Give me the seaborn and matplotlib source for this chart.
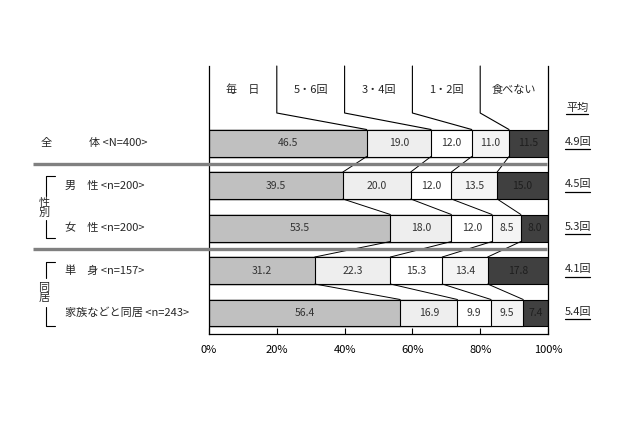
import matplotlib
matplotlib.use('Agg')

import matplotlib.pyplot as plt
import matplotlib.transforms as mtransforms
import seaborn as sns
import numpy as np

# データ
GROUPS = ['全体', '男性', '女性', '単身', '家族などと同居']
CATEGORIES = ['毎　日', '5・6回', '3・4回', '1・2回', '食べない']
MAINICHI = [46.5, 39.5, 53.5, 31.2, 56.4]
KAI_56 = [19.0, 20.0, 18.0, 22.3, 16.9]
KAI_34 = [12.0, 12.0, 12.0, 15.3, 9.9]
KAI_12 = [11.0, 13.5, 8.5, 13.4, 9.5]
TABENAI = [11.5, 15.0, 8.0, 17.8, 7.4]
AVERAGE = ['4.9回', '4.5回', '5.3回', '4.1回', '5.4回']
HEAD_BOUNDS = [20, 40, 60, 80]
XTICKS = [0, 20, 40, 60, 80, 100]

COLORS = ['#c0c0c0', '#eeeeee', '#ffffff', '#f4f4f4', '#404040']

sns.set_theme(style='white')
plt.rcParams['font.family'] = ['Noto Sans CJK JP', 'DejaVu Sans']

W, H = 640, 426
FS = 8
fig = plt.figure(figsize=(6.4, 4.26), dpi=100)
ax = fig.add_axes([209 / W, (H - 334) / H, 339 / W, (334 - 66) / H])

values = np.array([MAINICHI, KAI_56, KAI_34, KAI_12, TABENAI]).T
cum = np.cumsum(values, axis=1)
bar_h = 0.635
half = bar_h / 2

# 積み上げ（右端から重ねて描く）
for j in reversed(range(len(CATEGORIES))):
    sns.barplot(x=cum[:, j], y=GROUPS, orient='h', color=COLORS[j],
                saturation=1, edgecolor='black', linewidth=0.8,
                width=bar_h, ax=ax)

# 数値ラベル
for i in range(len(GROUPS)):
    for j in range(len(CATEGORIES)):
        xc = cum[i, j] - values[i, j] / 2
        ax.text(xc, i, f'{values[i, j]:.1f}', ha='center', va='center',
                fontsize=7.5, color='#1e1e1e' if j == 4 else '#333333')

# 区切り線（行間）
for i in range(len(GROUPS) - 1):
    for j in range(len(CATEGORIES) - 1):
        ax.plot([cum[i, j], cum[i + 1, j]], [i + half, i + 1 - half],
                color='black', lw=0.7, clip_on=False)

# 見出し
y_top, y_knee = -1.812, -0.706
for j, hb in enumerate(HEAD_BOUNDS):
    ax.plot([hb, hb, cum[0, j]], [y_top, y_knee, -half],
            color='black', lw=0.8, clip_on=False)
for k, cat in enumerate(CATEGORIES):
    ax.text(10 + 20 * k, -1.247, cat, ha='center', va='center', fontsize=FS)

# グレー区切り
for ys in [0.49, 2.5]:
    ax.plot([-51.9, 99.8], [ys, ys], color='#808080', lw=2.4,
            solid_capstyle='butt', clip_on=False, zorder=5)

ax.set_xlim(0, 100)
ax.set_ylim(4.494, y_top)
ax.set_yticks([])
ax.set_ylabel('')
ax.set_xlabel('')
ax.set_xticks(XTICKS)
ax.set_xticklabels([f'{t}%' for t in XTICKS], fontsize=FS)
ax.tick_params(axis='x', direction='in', length=4, width=0.8, pad=8,
               bottom=True, colors='black')
for side in ['left', 'right', 'bottom']:
    ax.spines[side].set_visible(True)
    ax.spines[side].set_color('black')
    ax.spines[side].set_linewidth(0.9)
ax.spines['top'].set_visible(False)

# 左側ラベル
tr = mtransforms.blended_transform_factory(fig.transFigure, ax.transData)
ax.text(41 / W, 0, '全', transform=tr, ha='left', va='center', fontsize=FS)
ax.text(89 / W, 0, '体 <N=400>', transform=tr, ha='left', va='center', fontsize=FS)
left_labels = ['男　性 <n=200>', '女　性 <n=200>', '単　身 <n=157>', '家族などと同居 <n=243>']
for i, lab in enumerate(left_labels, start=1):
    ax.text(65 / W, i, lab, transform=tr, ha='left', va='center', fontsize=FS)

# 括弧
brackets = [(0.776, 1.247, 1.81, 2.235, '性\n別', 1.53),
            (2.80, 3.18, 3.86, 4.306, '同\n居', 3.53)]
for top, g1, g2, bot, lab, yl in brackets:
    ax.plot([55 / W, 46 / W, 46 / W], [top, top, g1], transform=tr,
            color='black', lw=0.8, clip_on=False)
    ax.plot([46 / W, 46 / W, 55 / W], [g2, bot, bot], transform=tr,
            color='black', lw=0.8, clip_on=False)
    ax.text(44 / W, yl, lab, transform=tr, ha='center', va='center',
            fontsize=FS, linespacing=1.0)

# 平均
ax.text(566 / W, -0.82, '平均', transform=tr, ha='left', va='center', fontsize=FS)
ax.plot([566 / W, 588 / W], [-0.68, -0.68], transform=tr, color='black',
        lw=0.9, clip_on=False)
for i, avg in enumerate(AVERAGE):
    ax.text(565 / W, i - 0.03, avg, transform=tr, ha='left', va='center', fontsize=FS)
    ax.plot([565 / W, 590 / W], [i + 0.15, i + 0.15], transform=tr,
            color='black', lw=0.9, clip_on=False)

fig.savefig('out.png', dpi=100)
